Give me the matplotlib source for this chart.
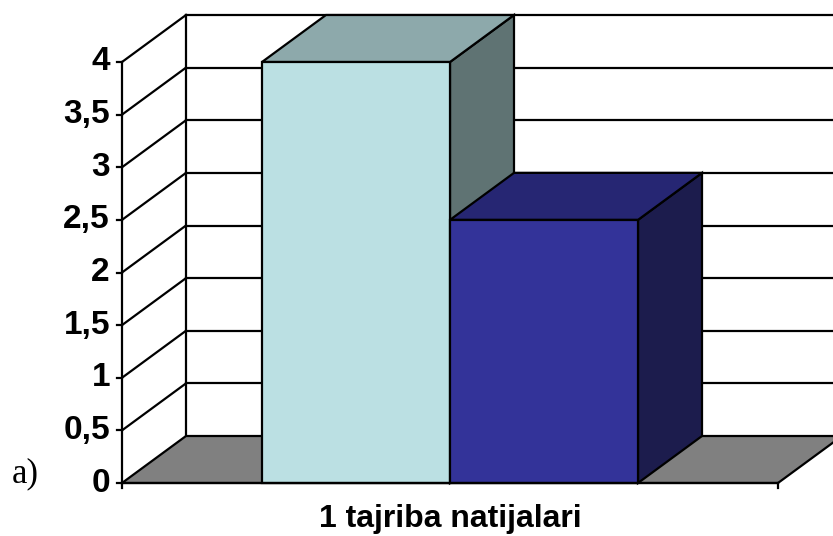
import matplotlib
matplotlib.use("Agg")
import matplotlib.pyplot as plt
from matplotlib.patches import Polygon

# ---- data ----
categories = ["1 tajriba natijalari"]
series_values = [4.0, 2.5]
series_front = ["#BBE0E3", "#333399"]
series_top = ["#8DA9AB", "#262673"]
series_side = ["#5F7373", "#1C1C4D"]
y_ticks = [0, 0.5, 1, 1.5, 2, 2.5, 3, 3.5, 4]
y_tick_labels = ["0", "0,5", "1", "1,5", "2", "2,5", "3", "3,5", "4"]
panel_label = "a)"

# ---- geometry (pixel space projection) ----
W, H = 833, 536
X0, X1 = 122, 778          # front plane x-range of category axis
Y0 = 483                   # front plane y at value 0
YMAX = 4.0
SCALE = (483 - 62) / YMAX  # px per unit
DX, DY = 64, -47           # depth offset
GAP = 0.2134               # gap fraction on each side of the group
BARW = (1 - 2 * GAP) / len(series_values)

def py(v):
    return Y0 - v * SCALE

def px(c):
    return X0 + c * (X1 - X0)

fig = plt.figure(figsize=(W / 100, H / 100), dpi=100)
ax = fig.add_axes([0, 0, 1, 1])
ax.set_xlim(0, W)
ax.set_ylim(H, 0)
ax.axis("off")

LW = 1.6
K = "black"

# back wall gridlines and left wall gridlines
for v in y_ticks:
    yb = py(v) + DY
    if v > 0:
        ax.plot([X0 + DX, X1 + DX + 10], [yb, yb], color=K, lw=LW, zorder=1)
        ax.plot([X0, X0 + DX], [py(v), yb], color=K, lw=LW, zorder=1)
# back wall left vertical edge
ax.plot([X0 + DX, X0 + DX], [py(0) + DY, py(YMAX) + DY], color=K, lw=LW, zorder=1)

# floor
floor = Polygon([(X0, py(0)), (X1, py(0)), (X1 + DX, py(0) + DY), (X0 + DX, py(0) + DY)],
                closed=True, facecolor="#808080", edgecolor=K, lw=LW, zorder=2)
ax.add_patch(floor)

# front value axis
ax.plot([X0, X0], [py(0), py(YMAX)], color=K, lw=LW, zorder=6)
for v, lab in zip(y_ticks, y_tick_labels):
    ax.plot([X0 - 5, X0], [py(v), py(v)], color=K, lw=LW, zorder=6)
    ax.text(X0 - 12, py(v), lab, ha="right", va="center", fontsize=24,
            fontweight="bold", family="Liberation Sans", zorder=7)
# category axis ticks
ax.plot([X0, X1], [py(0), py(0)], color=K, lw=LW, zorder=6)
ax.plot([X0, X0], [py(0), py(0) + 5], color=K, lw=LW, zorder=6)
ax.plot([X1, X1], [py(0), py(0) + 5], color=K, lw=LW, zorder=6)

# bars
for i, v in enumerate(series_values):
    xl = px(GAP + i * BARW)
    xr = px(GAP + (i + 1) * BARW)
    yt, yb = py(v), py(0)
    z = 3 + i
    front = Polygon([(xl, yb), (xr, yb), (xr, yt), (xl, yt)], closed=True,
                    facecolor=series_front[i], edgecolor=K, lw=LW, zorder=z)
    top = Polygon([(xl, yt), (xr, yt), (xr + DX, yt + DY), (xl + DX, yt + DY)], closed=True,
                  facecolor=series_top[i], edgecolor=K, lw=LW, zorder=z)
    side = Polygon([(xr, yb), (xr + DX, yb + DY), (xr + DX, yt + DY), (xr, yt)], closed=True,
                   facecolor=series_side[i], edgecolor=K, lw=LW, zorder=z)
    ax.add_patch(side)
    ax.add_patch(top)
    ax.add_patch(front)

# category label
ax.text((X0 + X1) / 2, 527, categories[0], ha="center", va="baseline",
        fontsize=23, fontweight="bold", family="Liberation Sans")

# panel label
ax.text(12, 482, panel_label, ha="left", va="baseline", fontsize=25,
        family="Liberation Serif")

fig.savefig("out.png", dpi=100)
